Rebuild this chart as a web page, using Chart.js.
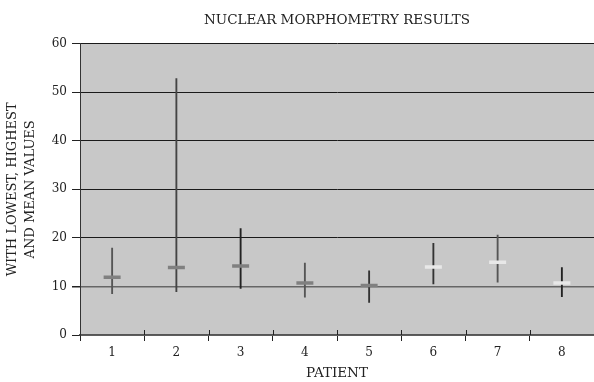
<!DOCTYPE html>
<html>
<head>
<meta charset="utf-8">
<script src="https://cdn.jsdelivr.net/npm/chart.js@4/dist/chart.umd.min.js"></script>
<style>
  html, body { margin: 0; padding: 0; background: #fff; overflow: hidden; }
  #wrap { width: 594px; height: 382px; }
</style>
</head>
<body>
<div id="wrap"><canvas id="c" width="594" height="382"></canvas></div>
<script>
// patients and readings
const patients = ['1', '2', '3', '4', '5', '6', '7', '8'];
const lowest  = [8.5, 8.9, 9.6, 7.8, 6.7, 10.5, 10.9, 7.9];
const highest = [17.9, 52.8, 21.9, 14.8, 13.2, 18.9, 20.6, 13.9];
const means   = [11.9, 13.9, 14.2, 10.7, 10.2, 14.0, 15.0, 10.7];
const yTicks  = [0, 10, 20, 30, 40, 50, 60];

const serif = "'DejaVu Serif', 'Liberation Serif', serif";

// grey plot background
const bgPlugin = {
  id: 'plotBg',
  beforeDraw(chart) {
    const a = chart.chartArea, ctx = chart.ctx;
    ctx.save();
    ctx.fillStyle = '#c8c8c8';
    ctx.fillRect(a.left, a.top, a.right - a.left, a.bottom - a.top);
    ctx.restore();
  }
};

// the category ticks poke a little into the plot too
const innerTicks = {
  id: 'innerTicks',
  afterDraw(chart) {
    const x = chart.scales.x, a = chart.chartArea, ctx = chart.ctx;
    ctx.save();
    ctx.strokeStyle = '#222';
    ctx.lineWidth = 1;
    for (let i = 1; i < patients.length; i++) {
      const px = Math.round((x.getPixelForValue(i - 1) + x.getPixelForValue(i)) / 2) + 0.5;
      ctx.beginPath();
      ctx.moveTo(px, a.bottom - 5);
      ctx.lineTo(px, a.bottom);
      ctx.stroke();
    }
    ctx.restore();
  }
};

new Chart(document.getElementById('c'), {
  data: {
    labels: patients,
    datasets: [
      {
        type: 'line',
        data: means,
        showLine: false,
        pointStyle: 'line',
        pointRadius: 8.5,
        pointBorderWidth: 3.5,
        pointBorderColor: ['#808080', '#808080', '#808080', '#808080', '#808080', '#e8e8e8', '#e8e8e8', '#e8e8e8'],
        order: 0
      },
      {
        type: 'bar',
        data: lowest.map((lo, i) => [lo, highest[i]]),
        backgroundColor: ['#555', '#444', '#222', '#555', '#333', '#333', '#555', '#222'],
        barThickness: 1.2,
        order: 1
      }
    ]
  },
  options: {
    responsive: false,
    animation: false,
    layout: { autoPadding: false, padding: { left: 4, right: 0, top: 0, bottom: 0 } },
    plugins: {
      legend: { display: false },
      tooltip: { enabled: false },
      title: {
        display: true,
        fullSize: false,
        text: 'NUCLEAR MORPHOMETRY RESULTS',
        color: '#222',
        font: { family: serif, size: 13.5, weight: 'normal' },
        padding: { top: 12, bottom: 15.5 }
      }
    },
    scales: {
      x: {
        type: 'category',
        offset: true,
        grid: {
          offset: true,
          drawOnChartArea: false,
          tickLength: 6,
          color: '#222'
        },
        border: { color: '#555', width: 1.5 },
        ticks: { color: '#222', font: { family: serif, size: 12 }, padding: 5 },
        title: {
          display: true,
          text: 'PATIENT',
          color: '#222',
          font: { family: serif, size: 13.5 },
          padding: { top: 0, bottom: 0 }
        },
        afterFit(s) { s.height = 47; }
      },
      y: {
        min: 0,
        max: 60,
        afterBuildTicks(s) { s.ticks = yTicks.map(v => ({ value: v })); },
        grid: {
          color: c => (c.tick && (c.tick.value === 10 || c.tick.value === 0)) ? '#666' : '#1a1a1a',
          lineWidth: c => (c.tick && c.tick.value === 10) ? 1.5 : 1,
          tickLength: 8,
          tickColor: '#222'
        },
        border: { color: '#333', width: 1 },
        ticks: { color: '#222', font: { family: serif, size: 12 }, padding: 5 },
        title: {
          display: true,
          text: ['WITH LOWEST, HIGHEST', 'AND MEAN VALUES'],
          color: '#222',
          font: { family: serif, size: 13, lineHeight: 1.35 },
          padding: { top: 0, bottom: 6 }
        },
        afterFit(s) { s.width = 76; }
      }
    }
  },
  plugins: [bgPlugin, innerTicks]
});
</script>
</body>
</html>
